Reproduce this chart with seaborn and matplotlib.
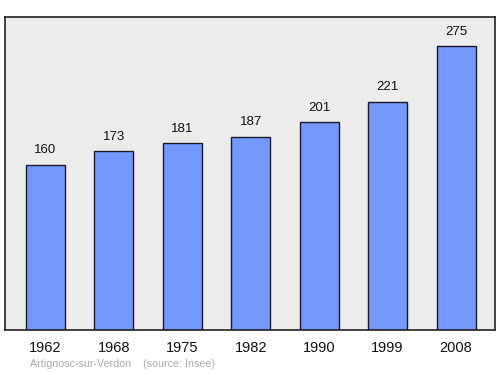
import matplotlib
matplotlib.use("Agg")
import matplotlib.pyplot as plt
import seaborn as sns
import pandas as pd

years = ["1962", "1968", "1975", "1982", "1990", "1999", "2008"]
population = [160, 173, 181, 187, 201, 221, 275]
source_text = "Artignosc-sur-Verdon    (source: Insee)"

sns.set_style("white")
plt.rcParams['font.family'] = ['Liberation Sans', 'DejaVu Sans']

df = pd.DataFrame({"year": years, "pop": population})

fig = plt.figure(figsize=(5.0, 3.74), dpi=100)
ax = fig.add_axes([0.01, 0.1176, 0.98, 0.837])
ax.set_facecolor("#ececec")

sns.barplot(data=df, x="year", y="pop", ax=ax, color="#7399ff", saturation=1,
            width=0.57, edgecolor="#1a1a2a", linewidth=1.0)

for i, v in enumerate(population):
    ax.annotate(str(v), (i, v), xytext=(0, 6), textcoords="offset points",
                ha="center", va="bottom", fontsize=9.5, color="#111111")

ax.set_xlim(-0.593, 6.57)
ax.set_ylim(0, 303)
ax.set_yticks([])
ax.set_xlabel("")
ax.set_ylabel("")
ax.tick_params(axis="x", length=0, labelsize=10.5, pad=8, colors="#111111")
for s in ax.spines.values():
    s.set_visible(True)
    s.set_color("#222222")
    s.set_linewidth(1.2)

fig.text(0.06, 0.027, source_text, fontsize=7.7, color="#aaaaaa", ha="left", va="center")

fig.savefig("out.png", dpi=100)
